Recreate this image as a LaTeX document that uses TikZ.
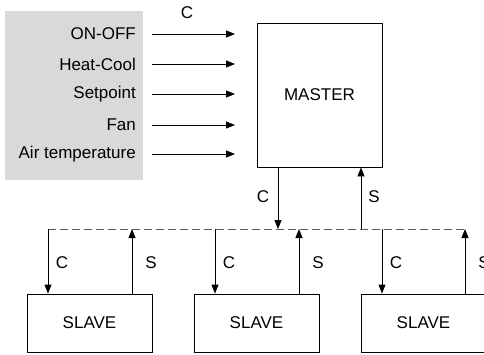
\documentclass[tikz,border=0pt]{standalone}
\usepackage{fontspec}
\setmainfont{Liberation Sans}
\usetikzlibrary{arrows.meta}
\definecolor{panel}{RGB}{217,217,217}
\definecolor{busgray}{RGB}{90,90,90}
\tikzset{
  box/.style={draw=black, line width=0.9pt, fill=white, inner sep=0pt},
  lbl/.style={inner sep=0pt, font=\fontsize{17}{20}\selectfont},
  inlbl/.style={lbl, anchor=east},
  sig/.style={line width=0.9pt, -{Triangle[length=9pt,width=7pt]}},
  bus/.style={draw=busgray, line width=0.9pt, dash pattern=on 8pt off 4pt}
}
\begin{document}
\begin{tikzpicture}[x=1pt,y=-1pt]
\useasboundingbox (0,0) rectangle (484,354);
\clip (0,0) rectangle (484,354);
% input panel
\fill[panel] (5,11) rectangle (143,180);
\node[inlbl] (i1) at (136,34) {ON-OFF};
\node[inlbl] (i2) at (136,64) {Heat-Cool};
\node[inlbl] (i3) at (136,94) {Setpoint};
\node[inlbl] (i4) at (136,125) {Fan};
\node[inlbl] (i5) at (136,154) {Air temperature};
\node[lbl] (ctop) at (187,13) {C};
\foreach \y [count=\i] in {34,64,94,125,154}{
  \coordinate (a\i) at (152,\y);
  \coordinate (b\i) at (235,\y);
  \draw[sig] (a\i) -- (b\i);
}
% master
\node[box, minimum width=125pt, minimum height=144pt] (master) at (319.5,95) {};
\node[lbl] (mtxt) at (master.center) {MASTER};
% slaves
\foreach \cx [count=\i] in {89.5,256.5,423.5}{
  \node[box, minimum width=125pt, minimum height=58pt] (slave\i) at (\cx,323) {};
  \node[lbl] at (slave\i.center) {SLAVE};
}
% bus
\coordinate (busL) at (48,229);
\coordinate (busR) at (465,229);
\draw[bus] (busL) -- (busR);
% master links
\coordinate (mC) at (278,229);
\coordinate (mS) at (361,229);
\draw[sig] (master.south -| mC) -- (mC);
\draw[sig] (mS) -- (master.south -| mS);
\node[lbl] at (263,197) {C};
\node[lbl] at (374,197) {S};
% slave links
\foreach \c/\s/\i in {48/132/1,215/299/2,382/465/3}{
  \coordinate (sc\i) at (\c,229);
  \coordinate (ss\i) at (\s,229);
  \draw[sig] (sc\i) -- (slave\i.north -| sc\i);
  \draw[sig] (slave\i.north -| ss\i) -- (ss\i);
  \node[lbl] at (\c+14,263) {C};
  \node[lbl] at (\s+19,263) {S};
}
\end{tikzpicture}
\end{document}
